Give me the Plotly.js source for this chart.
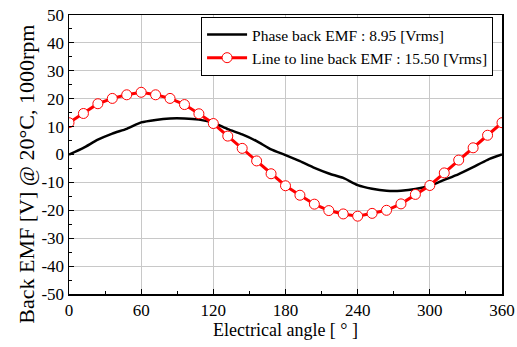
<!DOCTYPE html>
<html>
<head>
<meta charset="utf-8">
<script src="https://cdn.plot.ly/plotly-3.0.1.min.js"></script>
<style>html,body{margin:0;padding:0;background:#fff;}#chart{width:517px;height:347px;}</style>
</head>
<body>
<div id="chart"></div>
<script>
// Electrical angle samples (degrees)
const angle = [0,12,24,36,48,60,72,84,96,108,120,132,144,156,168,180,192,204,216,228,240,252,264,276,288,300,312,324,336,348,360];
// Phase back EMF [V]
const phaseEmf = [0,2.4,5.3,7.5,9.2,11.5,12.4,12.9,12.9,12.5,11.4,9.1,7.2,4.8,1.8,-0.2,-2.4,-4.8,-6.8,-8.4,-11.0,-12.3,-13.0,-13.0,-12.4,-11.2,-9.1,-7.0,-4.5,-1.9,0];
// Line to line back EMF [V]
const lineEmf = [11.4,14.7,18.2,20.1,21.4,22.3,21.4,20.1,17.9,14.6,11.1,6.6,2.2,-2.3,-6.9,-11.2,-14.6,-17.8,-20.1,-21.3,-22.1,-21.1,-20.0,-17.7,-14.3,-11.1,-6.6,-2.0,2.4,6.9,11.4];
const phaseName = "Phase back EMF : 8.95 [Vrms]";
const lineName = "Line to line back EMF : 15.50 [Vrms]";
const xTicks = [0,60,120,180,240,300,360];
const yTicks = [-50,-40,-30,-20,-10,0,10,20,30,40,50];
const xTitle = "Electrical angle [ ° ]";
const yTitle = "Back EMF [V] @ 20°C, 1000rpm";

const font = "Liberation Serif, Times New Roman, serif";
const traces = [
  {x: angle, y: phaseEmf, name: phaseName, mode: "lines", type: "scatter",
   line: {color: "#000000", width: 2.5, shape: "spline", smoothing: 0.6}},
  {x: angle, y: lineEmf, name: lineName, mode: "lines+markers", type: "scatter",
   line: {color: "#ff0000", width: 3},
   marker: {symbol: "circle", size: 10, color: "#ffffff", line: {color: "#ff0000", width: 1}}}
];
const layout = {
  width: 517, height: 347,
  margin: {l: 69, r: 15, t: 15, b: 53},
  paper_bgcolor: "#ffffff", plot_bgcolor: "#ffffff",
  font: {family: font, color: "#000000", size: 17},
  showlegend: true,
  legend: {x: 0.305, y: 0.993, xanchor: "left", yanchor: "top",
    bgcolor: "#ffffff", bordercolor: "#000000", borderwidth: 1,
    font: {family: font, size: 15.5}, tracegroupgap: 0, itemwidth: 40},
  xaxis: {range: [0, 360], tickvals: xTicks, ticktext: xTicks.map(String),
    showgrid: true, gridcolor: "#c8c8c8", gridwidth: 1, zeroline: false,
    showline: true, linecolor: "#000000", linewidth: 1.5, mirror: true,
    ticks: "inside", ticklen: 5, tickcolor: "#000000",
    minor: {dtick: 30, ticks: "inside", ticklen: 3, tickcolor: "#000000", showgrid: false},
    tickfont: {family: font, size: 17},
    title: {text: xTitle, font: {family: font, size: 18}, standoff: 4}},
  yaxis: {range: [-50, 50], tickvals: yTicks, ticktext: yTicks.map(String),
    showgrid: true, gridcolor: "#c8c8c8", gridwidth: 1, zeroline: false,
    showline: true, linecolor: "#000000", linewidth: 1.5, mirror: true,
    ticks: "inside", ticklen: 5, tickcolor: "#000000",
    minor: {dtick: 5, ticks: "inside", ticklen: 3, tickcolor: "#000000", showgrid: false},
    tickfont: {family: font, size: 17}},
  annotations: [{text: yTitle, xref: "paper", yref: "paper", x: -0.097, y: 0.431,
    xanchor: "center", yanchor: "middle", textangle: -90, showarrow: false,
    font: {family: font, size: 22, color: "#000000"}}]
};
Plotly.newPlot("chart", traces, layout, {staticPlot: true, displayModeBar: false});
</script>
</body>
</html>
